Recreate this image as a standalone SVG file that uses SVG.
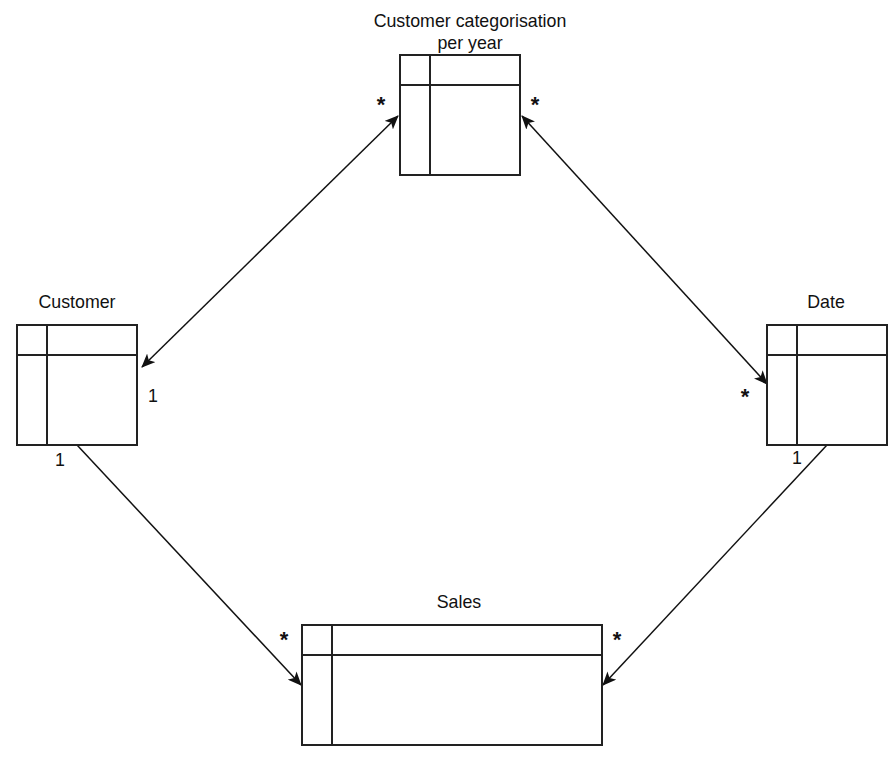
<svg xmlns="http://www.w3.org/2000/svg" width="896" height="758" viewBox="0 0 896 758">
<style>
.box{fill:#fff;stroke:#222;stroke-width:2}
.ln{stroke:#222;stroke-width:2;fill:none}
.cn{stroke:#111;stroke-width:1.5;fill:none}
text{font-family:"Liberation Sans",Arial,sans-serif;font-size:17.8px;fill:#111}
.t{text-anchor:middle}
.star{font-size:22px;font-weight:bold;text-anchor:middle}
</style>
<defs>
<marker id="arr" viewBox="0 0 14 12" refX="13" refY="6" markerWidth="14" markerHeight="12" markerUnits="userSpaceOnUse" orient="auto-start-reverse">
<path d="M0,0 L14,6 L0,12 L3.5,6 Z" fill="#111"/>
</marker>
</defs>
<rect width="896" height="758" fill="#fff"/>
<g id="connectors">
<line class="cn" x1="398" y1="116" x2="142" y2="367" marker-start="url(#arr)" marker-end="url(#arr)"/>
<line class="cn" x1="522" y1="116" x2="767" y2="384" marker-start="url(#arr)" marker-end="url(#arr)"/>
<line class="cn" x1="77" y1="445" x2="301" y2="685" marker-end="url(#arr)"/>
<line class="cn" x1="827" y1="445" x2="603" y2="685" marker-end="url(#arr)"/>
</g>
<g id="node-categorisation">
<rect class="box" x="400" y="55" width="120" height="120"/>
<line class="ln" x1="400" y1="85" x2="520" y2="85"/>
<line class="ln" x1="430" y1="55" x2="430" y2="175"/>
<text class="t" x="470" y="27">Customer categorisation</text>
<text class="t" x="470" y="49">per year</text>
</g>
<g id="node-customer">
<rect class="box" x="17" y="325" width="120" height="120"/>
<line class="ln" x1="17" y1="355" x2="137" y2="355"/>
<line class="ln" x1="47" y1="325" x2="47" y2="445"/>
<text class="t" x="77" y="308">Customer</text>
</g>
<g id="node-date">
<rect class="box" x="767" y="325" width="120" height="120"/>
<line class="ln" x1="767" y1="355" x2="887" y2="355"/>
<line class="ln" x1="797" y1="325" x2="797" y2="445"/>
<text class="t" x="826" y="308">Date</text>
</g>
<g id="node-sales">
<rect class="box" x="302" y="625" width="300" height="120"/>
<line class="ln" x1="302" y1="655" x2="602" y2="655"/>
<line class="ln" x1="332" y1="625" x2="332" y2="745"/>
<text class="t" x="459" y="608">Sales</text>
</g>
<g id="labels">
<text class="star" x="381" y="112">*</text>
<text class="star" x="535" y="112">*</text>
<text class="star" x="745" y="404">*</text>
<text class="star" x="284" y="647">*</text>
<text class="star" x="617" y="647">*</text>
<text class="t" x="153" y="402">1</text>
<text class="t" x="60" y="466">1</text>
<text class="t" x="797" y="464">1</text>
</g>
</svg>
